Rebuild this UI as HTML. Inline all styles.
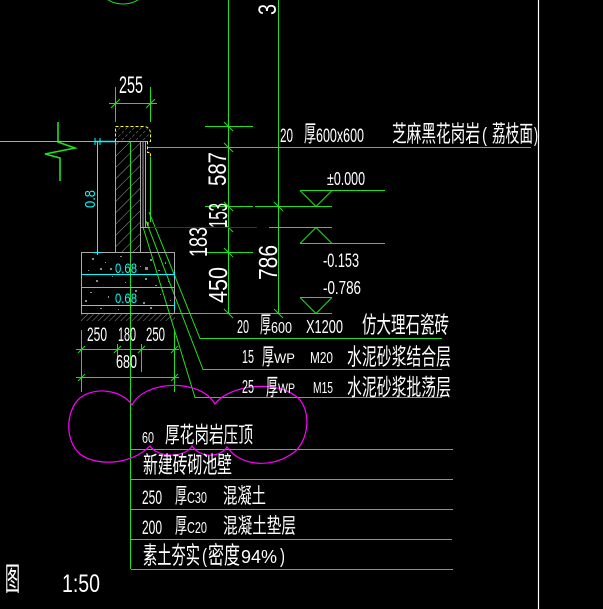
<!DOCTYPE html>
<html><head><meta charset="utf-8"><style>
html,body{margin:0;padding:0;background:#000;}
svg{display:block;}
text{font-family:"Liberation Sans","Noto Sans CJK SC",sans-serif;fill:#fff;}
.c{font-family:"Noto Sans CJK SC","WenQuanYi Zen Hei",sans-serif;}
</style></head><body>
<svg width="603" height="609" viewBox="0 0 603 609" xmlns="http://www.w3.org/2000/svg">
<defs>
<pattern id="hw" patternUnits="userSpaceOnUse" width="8" height="8" patternTransform="rotate(45)">
<line x1="0" y1="0" x2="0" y2="8" stroke="#9a9a9a" stroke-width="1"/></pattern>
<pattern id="hc" patternUnits="userSpaceOnUse" width="5" height="5" patternTransform="rotate(45)">
<line x1="0" y1="0" x2="0" y2="3" stroke="#8a8a8a" stroke-width="1"/></pattern>
<pattern id="hg" patternUnits="userSpaceOnUse" width="4" height="4" patternTransform="rotate(45)">
<line x1="0" y1="0" x2="0" y2="4" stroke="#8a8a8a" stroke-width="1"/></pattern>
</defs>
<rect width="603" height="609" fill="#000"/>

<!-- white border line -->
<line x1="538.5" y1="0" x2="538.5" y2="609" stroke="#fff" stroke-width="1.2"/>

<!-- top green arc -->
<circle cx="123" cy="-25" r="29" fill="none" stroke="#20e020" stroke-width="1"/>

<!-- break symbol -->
<polyline points="58,122 58,142 75,148 45,154 60,158 60,181" fill="none" stroke="#20e020" stroke-width="1.6"/>

<g stroke="#20e020" stroke-width="1" fill="none">
<!-- vertical dim lines -->
<line x1="228.5" y1="0" x2="228.5" y2="313"/>
<line x1="278.5" y1="0" x2="278.5" y2="313"/>
<line x1="148" y1="147.5" x2="531" y2="147.5"/>
<line x1="205" y1="126.5" x2="253" y2="126.5"/>
<line x1="205" y1="206.5" x2="253" y2="206.5"/>
<line x1="255" y1="206.5" x2="332" y2="206.5"/>
<line x1="205" y1="252.5" x2="253" y2="252.5"/>
<line x1="174" y1="313.5" x2="332" y2="313.5"/>
<line x1="300" y1="190.5" x2="385" y2="190.5"/>
<line x1="300" y1="243.5" x2="385" y2="243.5"/>
<line x1="300" y1="297.5" x2="332" y2="297.5"/>
<line x1="269" y1="227.5" x2="332" y2="227.5"/>
<!-- level triangles -->
<polyline points="300,190.5 316,206.5 332,190.5"/>
<polyline points="300,243.5 316,227.5 332,243.5"/>
<polyline points="300,297.5 316,313.5 332,297.5"/>
<!-- ticks on vertical dims -->
<line x1="224" y1="122" x2="233" y2="131"/>
<line x1="224" y1="143" x2="233" y2="152"/>
<line x1="224" y1="202" x2="233" y2="211"/>
<line x1="224" y1="223" x2="233" y2="232"/>
<line x1="224" y1="248" x2="233" y2="257"/>
<line x1="224" y1="309" x2="233" y2="318"/>
<line x1="274" y1="202" x2="283" y2="211"/>
<line x1="274" y1="309" x2="283" y2="318"/>
<!-- 255 dim -->
<line x1="115.5" y1="87" x2="115.5" y2="122"/>
<line x1="150.5" y1="87" x2="150.5" y2="122"/>
<line x1="109" y1="103.5" x2="157" y2="103.5"/>
<line x1="111" y1="108" x2="120" y2="99"/>
<line x1="146" y1="108" x2="155" y2="99"/>
<!-- wall green lines -->
<line x1="130.5" y1="142" x2="130.5" y2="569"/>
<line x1="150.5" y1="157" x2="150.5" y2="222"/>
<!-- leaders -->
<polyline points="149,212 200,338.5 442,338.5"/>
<polyline points="146,221 203,369.5 442,369.5"/>
<polyline points="143,227 195,397.5 442,397.5"/>
<!-- bottom dims -->
<line x1="76" y1="349.5" x2="179" y2="349.5"/>
<line x1="76" y1="377.5" x2="179" y2="377.5"/>
<line x1="81.5" y1="330" x2="81.5" y2="392"/>
<line x1="174.5" y1="330" x2="174.5" y2="392"/>
<line x1="117.5" y1="344" x2="117.5" y2="360"/>
<line x1="141.5" y1="344" x2="141.5" y2="372"/>
<line x1="78" y1="353" x2="85" y2="346"/>
<line x1="114" y1="353" x2="121" y2="346"/>
<line x1="138" y1="353" x2="145" y2="346"/>
<line x1="171" y1="353" x2="178" y2="346"/>
<line x1="78" y1="381" x2="85" y2="374"/>
<line x1="171" y1="381" x2="178" y2="374"/>
<!-- table -->
<line x1="131" y1="449.5" x2="453" y2="449.5"/>
<line x1="131" y1="479.5" x2="453" y2="479.5"/>
<line x1="131" y1="509.5" x2="453" y2="509.5"/>
<line x1="131" y1="539.5" x2="452" y2="539.5"/>
<line x1="131" y1="569.5" x2="453" y2="569.5"/>
</g>

<!-- blue line -->
<line x1="142" y1="227.5" x2="257" y2="227.5" stroke="#1020ff" stroke-width="1"/>

<!-- cap hatch -->
<path d="M115.5,141.5 L115.5,126.5 L143,126.5 Q150.5,126.5 150.5,134 L150.5,141.5 Z" fill="url(#hc)"/>
<!-- wall hatch -->
<rect x="115.5" y="142" width="25" height="110" fill="url(#hw)"/>
<!-- ground hatch -->
<rect x="81" y="314" width="94" height="7" fill="url(#hg)"/>

<g stroke="#a8a8a8" stroke-width="1" fill="none">
<line x1="0" y1="141.5" x2="95" y2="141.5"/>
<line x1="115" y1="141.5" x2="148" y2="141.5"/>
<line x1="115.5" y1="142" x2="115.5" y2="252"/>
<line x1="140.5" y1="142" x2="140.5" y2="252"/>
<line x1="143" y1="142" x2="143" y2="227"/>
<line x1="145.5" y1="142" x2="145.5" y2="227"/>
<line x1="140" y1="227.5" x2="150" y2="227.5"/>
<rect x="81.5" y="252.5" width="93" height="61"/>
<line x1="81.5" y1="287.5" x2="174.5" y2="287.5"/>
</g>

<!-- speckles -->
<g fill="#8c8c8c">
<rect x="92" y="258" width="2" height="2"/><rect x="105" y="262" width="1" height="1"/>
<rect x="120" y="256" width="2" height="1"/><rect x="150" y="259" width="2" height="2"/>
<rect x="165" y="262" width="1" height="2"/><rect x="88" y="270" width="1" height="1"/>
<rect x="110" y="268" width="2" height="2"/><rect x="140" y="266" width="1" height="1"/>
<rect x="158" y="270" width="2" height="1"/><rect x="96" y="280" width="2" height="2"/>
<rect x="125" y="282" width="1" height="1"/><rect x="145" y="278" width="2" height="2"/>
<rect x="168" y="281" width="1" height="1"/><rect x="90" y="292" width="2" height="1"/>
<rect x="108" y="296" width="1" height="2"/><rect x="135" y="290" width="2" height="2"/>
<rect x="160" y="294" width="1" height="1"/><rect x="100" y="308" width="2" height="1"/>
<rect x="118" y="309" width="1" height="1"/><rect x="150" y="307" width="2" height="2"/>
<rect x="170" y="300" width="1" height="1"/><rect x="130" y="262" width="1" height="1"/>
<rect x="85" y="300" width="2" height="2"/><rect x="112" y="276" width="1" height="1"/>
<rect x="155" y="285" width="2" height="1"/><rect x="145" y="267" width="3" height="3"/>
<rect x="143" y="302" width="2" height="2"/><rect x="100" y="268" width="2" height="2"/>
</g>

<!-- yellow cap outline -->
<path d="M115.5,141.5 L115.5,126.5 L143,126.5 Q150.5,126.5 150.5,134 L150.5,141.5 L147.5,141.5 L147.5,152.5 L150.5,152.5 L150.5,157" fill="none" stroke="#ffff00" stroke-width="1" stroke-dasharray="3,2"/>
<line x1="148" y1="222" x2="148" y2="226" stroke="#ffff00" stroke-width="1"/>

<!-- cyan -->
<g stroke="#00ffff" stroke-width="1" fill="none">
<line x1="95" y1="141.5" x2="115" y2="141.5" stroke-width="1.6"/>
<line x1="97.5" y1="141" x2="97.5" y2="252"/>
<line x1="81" y1="274.5" x2="174" y2="274.5"/>
<line x1="81" y1="305.5" x2="174" y2="305.5"/>
<path d="M95,138 L95,145 M100,138 L100,145 M94,252.5 L101,252.5 M97.5,249 L97.5,255"/>
<path d="M81.5,271 L81.5,278 M174.5,271 L174.5,278 M81.5,302 L81.5,309 M174.5,302 L174.5,309"/>
</g>
<text x="115" y="273" font-size="14" textLength="22" lengthAdjust="spacingAndGlyphs" style="fill:#00ffff">0.68</text>
<text x="115" y="303" font-size="14" textLength="22" lengthAdjust="spacingAndGlyphs" style="fill:#00ffff">0.68</text>
<text transform="translate(95,208) rotate(-90)" font-size="15" textLength="18" lengthAdjust="spacingAndGlyphs" style="fill:#00ffff">0.8</text>

<!-- magenta cloud -->
<path d="M132,405 C122,390 95,386 80,398 C66,410 64,440 80,454 C95,466 130,466 150,446 C158,458 185,458 192,446 C200,458 220,458 227,447 C240,466 270,468 290,455 C308,445 312,415 300,400 C280,378 228,385 215,404 C200,378 145,380 132,405 Z" fill="none" stroke="#ff00ff" stroke-width="1.2"/>

<!-- rotated dim texts -->
<text transform="translate(226,186) rotate(-90)" font-size="25" textLength="34" lengthAdjust="spacingAndGlyphs">587</text>
<text transform="translate(227,228) rotate(-90)" font-size="26" textLength="25" lengthAdjust="spacingAndGlyphs">153</text>
<text transform="translate(227,303) rotate(-90)" font-size="26" textLength="36" lengthAdjust="spacingAndGlyphs">450</text>
<text transform="translate(207,257) rotate(-90)" font-size="25" textLength="30" lengthAdjust="spacingAndGlyphs">183</text>
<text transform="translate(277,280) rotate(-90)" font-size="26" textLength="35" lengthAdjust="spacingAndGlyphs">786</text>
<text transform="translate(276,15) rotate(-90)" font-size="25" textLength="11" lengthAdjust="spacingAndGlyphs">3</text>

<!-- dims -->
<text x="119" y="93" font-size="24" textLength="24" lengthAdjust="spacingAndGlyphs">255</text>
<text x="87" y="341" font-size="19" textLength="20" lengthAdjust="spacingAndGlyphs">250</text>
<text x="118" y="341" font-size="19" textLength="18" lengthAdjust="spacingAndGlyphs">180</text>
<text x="146" y="341" font-size="19" textLength="19" lengthAdjust="spacingAndGlyphs">250</text>
<text x="116" y="368" font-size="18" textLength="21" lengthAdjust="spacingAndGlyphs">680</text>

<!-- levels -->
<text x="327" y="185" font-size="18" textLength="38" lengthAdjust="spacingAndGlyphs">±0.000</text>
<text x="323" y="267" font-size="19" textLength="36" lengthAdjust="spacingAndGlyphs">-0.153</text>
<text x="323" y="294" font-size="18" textLength="38" lengthAdjust="spacingAndGlyphs">-0.786</text>

<!-- top label -->
<text x="280" y="142" font-size="19" textLength="13" lengthAdjust="spacingAndGlyphs">20</text>
<text class="c" x="304" y="141.4" font-size="23" textLength="12" lengthAdjust="spacingAndGlyphs">厚</text>
<text x="316" y="142" font-size="19" textLength="48" lengthAdjust="spacingAndGlyphs">600x600</text>
<text class="c" x="392" y="141.4" font-size="23" textLength="88" lengthAdjust="spacingAndGlyphs">芝麻黑花岗岩</text>
<text x="482" y="142" font-size="20" textLength="5" lengthAdjust="spacingAndGlyphs">(</text>
<text class="c" x="492" y="141.4" font-size="23" textLength="41" lengthAdjust="spacingAndGlyphs">荔枝面</text>
<text x="534" y="142" font-size="20" textLength="4" lengthAdjust="spacingAndGlyphs">)</text>

<!-- leader labels -->
<text x="237" y="333" font-size="18" textLength="12" lengthAdjust="spacingAndGlyphs">20</text>
<text class="c" x="260" y="332.4" font-size="23" textLength="11" lengthAdjust="spacingAndGlyphs">厚</text>
<text x="271" y="333" font-size="16" textLength="21" lengthAdjust="spacingAndGlyphs">600</text>
<text x="306" y="333" font-size="18" textLength="37" lengthAdjust="spacingAndGlyphs">X1200</text>
<text class="c" x="362" y="332.4" font-size="23" textLength="87" lengthAdjust="spacingAndGlyphs">仿大理石瓷砖</text>

<text x="242" y="363" font-size="18" textLength="12" lengthAdjust="spacingAndGlyphs">15</text>
<text class="c" x="262" y="364.5" font-size="23" textLength="12" lengthAdjust="spacingAndGlyphs">厚</text>
<text x="274" y="363" font-size="14" textLength="21" lengthAdjust="spacingAndGlyphs">WP</text>
<text x="310" y="363" font-size="16" textLength="23" lengthAdjust="spacingAndGlyphs">M20</text>
<text class="c" x="347" y="364.5" font-size="23" textLength="104" lengthAdjust="spacingAndGlyphs">水泥砂浆结合层</text>

<text x="242" y="393" font-size="18" textLength="12" lengthAdjust="spacingAndGlyphs">25</text>
<text class="c" x="266" y="395" font-size="23" textLength="12" lengthAdjust="spacingAndGlyphs">厚</text>
<text x="278" y="393" font-size="14" textLength="17" lengthAdjust="spacingAndGlyphs">WP</text>
<text x="313" y="393" font-size="16" textLength="20" lengthAdjust="spacingAndGlyphs">M15</text>
<text class="c" x="347" y="395" font-size="23" textLength="104" lengthAdjust="spacingAndGlyphs">水泥砂浆批荡层</text>

<!-- table texts -->
<text x="142" y="443" font-size="16" textLength="12" lengthAdjust="spacingAndGlyphs">60</text>
<text class="c" x="165" y="442.5" font-size="22" textLength="88" lengthAdjust="spacingAndGlyphs">厚花岗岩压顶</text>
<text class="c" x="143" y="472.5" font-size="23" textLength="89" lengthAdjust="spacingAndGlyphs">新建砖砌池壁</text>

<text x="142" y="504" font-size="19" textLength="20" lengthAdjust="spacingAndGlyphs">250</text>
<text class="c" x="175" y="503" font-size="21" textLength="12" lengthAdjust="spacingAndGlyphs">厚</text>
<text x="187" y="503" font-size="16" textLength="20" lengthAdjust="spacingAndGlyphs">C30</text>
<text class="c" x="223" y="503" font-size="21" textLength="43" lengthAdjust="spacingAndGlyphs">混凝土</text>

<text x="142" y="534" font-size="19" textLength="20" lengthAdjust="spacingAndGlyphs">200</text>
<text class="c" x="175" y="533" font-size="21" textLength="12" lengthAdjust="spacingAndGlyphs">厚</text>
<text x="187" y="533" font-size="16" textLength="20" lengthAdjust="spacingAndGlyphs">C20</text>
<text class="c" x="223" y="533" font-size="21" textLength="73" lengthAdjust="spacingAndGlyphs">混凝土垫层</text>

<text class="c" x="143" y="563.5" font-size="24" textLength="57" lengthAdjust="spacingAndGlyphs">素土夯实</text>
<text x="202" y="563" font-size="20" textLength="5" lengthAdjust="spacingAndGlyphs">(</text>
<text class="c" x="208" y="563.5" font-size="24" textLength="32" lengthAdjust="spacingAndGlyphs">密度</text>
<text x="241" y="563" font-size="18" textLength="36" lengthAdjust="spacingAndGlyphs">94%</text>
<text x="280" y="563" font-size="20" textLength="5" lengthAdjust="spacingAndGlyphs">)</text>

<text class="c" x="5" y="590" font-size="32" textLength="15" lengthAdjust="spacingAndGlyphs">图</text>
<text x="62" y="592" font-size="25" textLength="38" lengthAdjust="spacingAndGlyphs">1:50</text>
</svg>
</body></html>
